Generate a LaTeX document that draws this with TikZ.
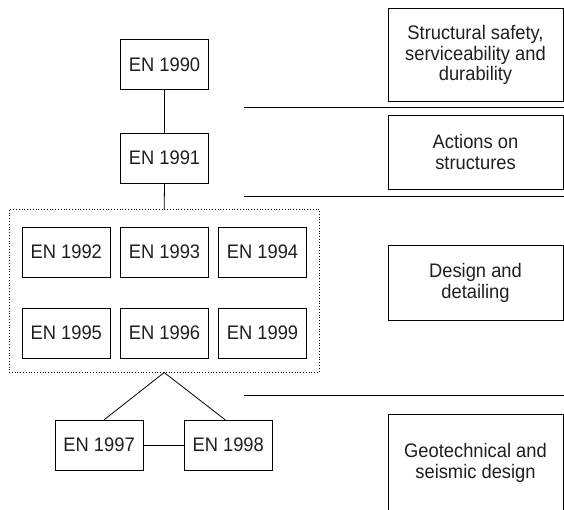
\documentclass[tikz,border=0pt]{standalone}
\usepackage{fontspec}
\setmainfont{Liberation Sans}[FakeStretch=0.935]
\begin{document}
\begin{tikzpicture}[x=1pt,y=-1pt,
 txt/.style={font=\fontsize{19.6}{20.8}\selectfont, text=black!88},
 en/.style={draw, line width=0.8pt, minimum width=88pt, minimum height=50pt, inner sep=0pt, txt},
 cat/.style={draw, line width=0.8pt, minimum width=175pt, inner sep=0pt, align=center, txt},
 grpbox/.style={draw, line width=0.9pt, dash pattern=on 1pt off 1.8pt, minimum width=310.4pt, minimum height=162.7pt, inner sep=0pt},
 sep/.style={line width=0.9pt},
 link/.style={line width=0.8pt}]
\useasboundingbox (0,0) rectangle (564,509);
\clip (0,0) rectangle (564,509);
% group
\node[grpbox] (grp) at (164.2,290.7) {};
% EN boxes
\node[en] (e90) at (164.5,64.5) {EN 1990};
\node[en] (e91) at (164.5,158) {EN 1991};
\node[en] (e92) at (66.3,252) {EN 1992};
\node[en] (e93) at (164.5,252) {EN 1993};
\node[en] (e94) at (262.5,252) {EN 1994};
\node[en] (e95) at (66.3,333) {EN 1995};
\node[en] (e96) at (164.5,333) {EN 1996};
\node[en] (e99) at (262.5,333) {EN 1999};
\node[en] (e97) at (99.1,445.2) {EN 1997};
\node[en] (e98) at (228.2,445.2) {EN 1998};
% category boxes
\node[cat, minimum height=93.4pt] (c1) at (475.5,55) {Structural safety,\\serviceability and\\durability};
\node[cat, minimum height=74pt] (c2) at (475.5,152) {Actions on\\structures};
\node[cat, minimum height=75pt] (c3) at (475.5,283.2) {Design and\\detailing};
\node[cat, minimum height=98pt] (c4) at (475.5,463) {Geotechnical and\\seismic design};
% separators
\coordinate (s1a) at (244,107.7); \coordinate (s1b) at (566,107.7);
\coordinate (s2a) at (244,196); \coordinate (s2b) at (566,196);
\coordinate (s3a) at (244,395); \coordinate (s3b) at (566,395);
\draw[sep] (s1a) -- (s1b);
\draw[sep] (s2a) -- (s2b);
\draw[sep] (s3a) -- (s3b);
% connectors
\draw[link] (e90.south) -- (e91.north);
\draw[link] (e91.south) -- (grp.north);
\draw[link] ([xshift=5pt]e97.north) -- (grp.south) -- ([xshift=-3pt]e98.north);
\draw[link] (e97.east) -- (e98.west);
\end{tikzpicture}
\end{document}
